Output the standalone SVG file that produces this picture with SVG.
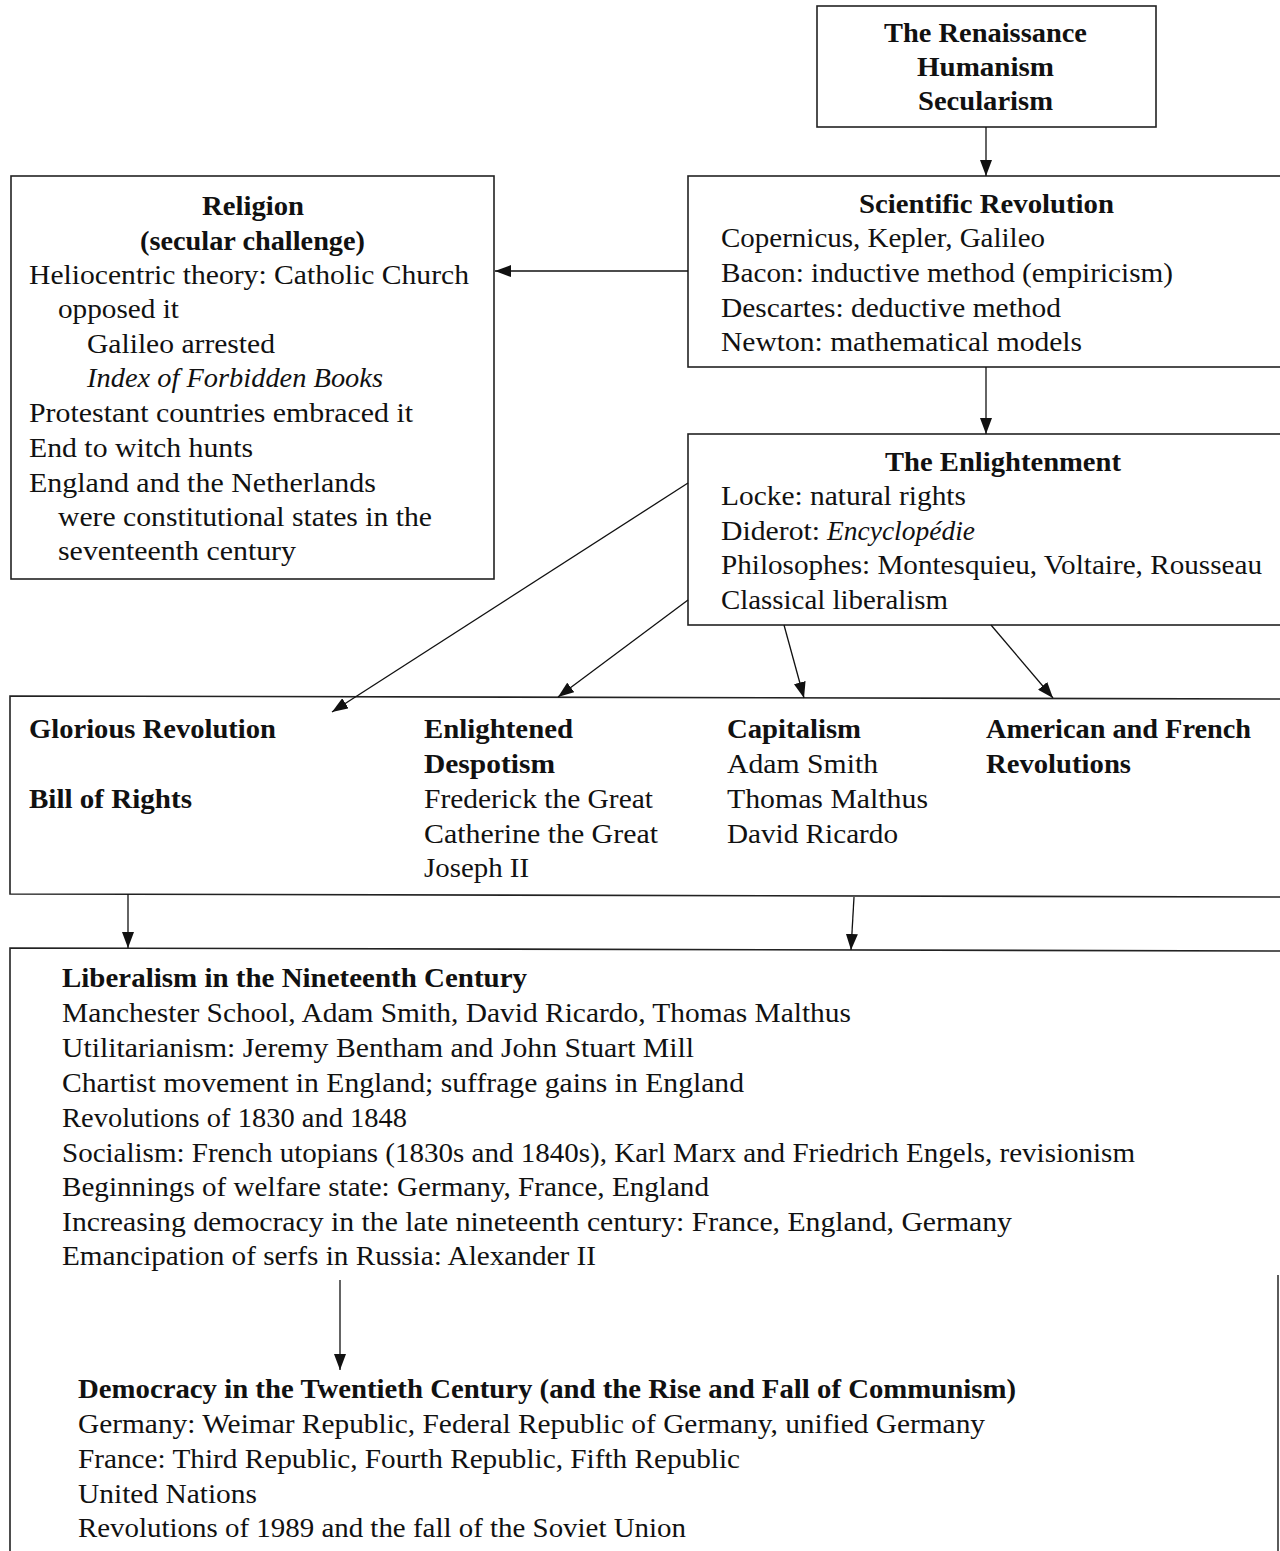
<svg xmlns="http://www.w3.org/2000/svg" width="1280" height="1551" viewBox="0 0 1280 1551">
<style>
text{font-family:"Liberation Serif","Times New Roman",serif;font-size:27px;fill:#111}
.b{font-weight:bold}
.i{font-style:italic}
.box{fill:#fff;stroke:#222;stroke-width:1.6}
.c line{stroke:#111;stroke-width:1.3}
</style>
<defs>
<marker id="ah" viewBox="0 0 16 12" refX="16" refY="6" markerWidth="16" markerHeight="12" markerUnits="userSpaceOnUse" orient="auto">
<path d="M0,0 L16,6 L0,12 Z" fill="#111"/>
</marker>
</defs>
<rect width="1280" height="1551" fill="#fff"/>

<g id="renaissance">
<rect class="box" x="817" y="6" width="339" height="121"/>
<text class="b" x="884" y="42" textLength="203" lengthAdjust="spacingAndGlyphs">The Renaissance</text>
<text class="b" x="917" y="76" textLength="137" lengthAdjust="spacingAndGlyphs">Humanism</text>
<text class="b" x="918" y="110" textLength="135" lengthAdjust="spacingAndGlyphs">Secularism</text>
</g>

<g id="religion">
<rect class="box" x="11" y="176" width="483" height="403"/>
<text class="b" x="202" y="215" textLength="102" lengthAdjust="spacingAndGlyphs">Religion</text>
<text class="b" x="140" y="250" textLength="225" lengthAdjust="spacingAndGlyphs">(secular challenge)</text>
<text x="29" y="284" textLength="440" lengthAdjust="spacingAndGlyphs">Heliocentric theory: Catholic Church</text>
<text x="58" y="318" textLength="121" lengthAdjust="spacingAndGlyphs">opposed it</text>
<text x="87" y="353" textLength="188" lengthAdjust="spacingAndGlyphs">Galileo arrested</text>
<text class="i" x="87" y="387" textLength="296" lengthAdjust="spacingAndGlyphs">Index of Forbidden Books</text>
<text x="29" y="422" textLength="384" lengthAdjust="spacingAndGlyphs">Protestant countries embraced it</text>
<text x="29" y="457" textLength="224" lengthAdjust="spacingAndGlyphs">End to witch hunts</text>
<text x="29" y="492" textLength="347" lengthAdjust="spacingAndGlyphs">England and the Netherlands</text>
<text x="58" y="526" textLength="374" lengthAdjust="spacingAndGlyphs">were constitutional states in the</text>
<text x="58" y="560" textLength="238" lengthAdjust="spacingAndGlyphs">seventeenth century</text>
</g>

<g id="scientific">
<rect class="box" x="688" y="176" width="610" height="191"/>
<text class="b" x="859" y="213" textLength="255" lengthAdjust="spacingAndGlyphs">Scientific Revolution</text>
<text x="721" y="247" textLength="324" lengthAdjust="spacingAndGlyphs">Copernicus, Kepler, Galileo</text>
<text x="721" y="282" textLength="452" lengthAdjust="spacingAndGlyphs">Bacon: inductive method (empiricism)</text>
<text x="721" y="317" textLength="340" lengthAdjust="spacingAndGlyphs">Descartes: deductive method</text>
<text x="721" y="351" textLength="361" lengthAdjust="spacingAndGlyphs">Newton: mathematical models</text>
</g>

<g id="enlightenment">
<rect class="box" x="688" y="434" width="610" height="191"/>
<text class="b" x="885" y="471" textLength="236" lengthAdjust="spacingAndGlyphs">The Enlightenment</text>
<text x="721" y="505" textLength="245" lengthAdjust="spacingAndGlyphs">Locke: natural rights</text>
<text x="721" y="540" textLength="99" lengthAdjust="spacingAndGlyphs">Diderot:</text>
<text class="i" x="827" y="540" textLength="148" lengthAdjust="spacingAndGlyphs">Encyclopédie</text>
<text x="721" y="574" textLength="541" lengthAdjust="spacingAndGlyphs">Philosophes: Montesquieu, Voltaire, Rousseau</text>
<text x="721" y="609" textLength="227" lengthAdjust="spacingAndGlyphs">Classical liberalism</text>
</g>

<g id="consequences">
<polygon class="box" points="10,696 1300,699 1300,897 10,894"/>
<text class="b" x="29" y="738" textLength="247" lengthAdjust="spacingAndGlyphs">Glorious Revolution</text>
<text class="b" x="29" y="808" textLength="163" lengthAdjust="spacingAndGlyphs">Bill of Rights</text>
<text class="b" x="424" y="738" textLength="149" lengthAdjust="spacingAndGlyphs">Enlightened</text>
<text class="b" x="424" y="773" textLength="131" lengthAdjust="spacingAndGlyphs">Despotism</text>
<text x="424" y="808" textLength="229" lengthAdjust="spacingAndGlyphs">Frederick the Great</text>
<text x="424" y="843" textLength="234" lengthAdjust="spacingAndGlyphs">Catherine the Great</text>
<text x="424" y="877" textLength="105" lengthAdjust="spacingAndGlyphs">Joseph II</text>
<text class="b" x="727" y="738" textLength="134" lengthAdjust="spacingAndGlyphs">Capitalism</text>
<text x="727" y="773" textLength="151" lengthAdjust="spacingAndGlyphs">Adam Smith</text>
<text x="727" y="808" textLength="201" lengthAdjust="spacingAndGlyphs">Thomas Malthus</text>
<text x="727" y="843" textLength="171" lengthAdjust="spacingAndGlyphs">David Ricardo</text>
<text class="b" x="986" y="738" textLength="265" lengthAdjust="spacingAndGlyphs">American and French</text>
<text class="b" x="986" y="773" textLength="145" lengthAdjust="spacingAndGlyphs">Revolutions</text>
</g>

<g id="liberalism">
<path class="box" d="M10,1560 V948 L1300,951" fill="none"/>
<line x1="1278" y1="1275" x2="1278" y2="1551" stroke="#333" stroke-width="1.6"/>
<text class="b" x="62" y="987" textLength="465" lengthAdjust="spacingAndGlyphs">Liberalism in the Nineteenth Century</text>
<text x="62" y="1022" textLength="789" lengthAdjust="spacingAndGlyphs">Manchester School, Adam Smith, David Ricardo, Thomas Malthus</text>
<text x="62" y="1057" textLength="632" lengthAdjust="spacingAndGlyphs">Utilitarianism: Jeremy Bentham and John Stuart Mill</text>
<text x="62" y="1092" textLength="682" lengthAdjust="spacingAndGlyphs">Chartist movement in England; suffrage gains in England</text>
<text x="62" y="1127" textLength="345" lengthAdjust="spacingAndGlyphs">Revolutions of 1830 and 1848</text>
<text x="62" y="1162" textLength="1073" lengthAdjust="spacingAndGlyphs">Socialism: French utopians (1830s and 1840s), Karl Marx and Friedrich Engels, revisionism</text>
<text x="62" y="1196" textLength="647" lengthAdjust="spacingAndGlyphs">Beginnings of welfare state: Germany, France, England</text>
<text x="62" y="1231" textLength="950" lengthAdjust="spacingAndGlyphs">Increasing democracy in the late nineteenth century: France, England, Germany</text>
<text x="62" y="1265" textLength="534" lengthAdjust="spacingAndGlyphs">Emancipation of serfs in Russia: Alexander II</text>
</g>

<g id="democracy">
<text class="b" x="78" y="1398" textLength="938" lengthAdjust="spacingAndGlyphs">Democracy in the Twentieth Century (and the Rise and Fall of Communism)</text>
<text x="78" y="1433" textLength="907" lengthAdjust="spacingAndGlyphs">Germany: Weimar Republic, Federal Republic of Germany, unified Germany</text>
<text x="78" y="1468" textLength="662" lengthAdjust="spacingAndGlyphs">France: Third Republic, Fourth Republic, Fifth Republic</text>
<text x="78" y="1503" textLength="179" lengthAdjust="spacingAndGlyphs">United Nations</text>
<text x="78" y="1537" textLength="608" lengthAdjust="spacingAndGlyphs">Revolutions of 1989 and the fall of the Soviet Union</text>
</g>

<g id="connectors" class="c">
<line x1="986" y1="127" x2="986" y2="176" marker-end="url(#ah)"/>
<line x1="688" y1="271" x2="495" y2="271" marker-end="url(#ah)"/>
<line x1="986" y1="367" x2="986" y2="434" marker-end="url(#ah)"/>
<line x1="688" y1="483" x2="332" y2="712" marker-end="url(#ah)"/>
<line x1="688" y1="600" x2="558" y2="697" marker-end="url(#ah)"/>
<line x1="784" y1="625" x2="804" y2="698" marker-end="url(#ah)"/>
<line x1="991" y1="625" x2="1053" y2="698" marker-end="url(#ah)"/>
<line x1="128" y1="894" x2="128" y2="948" marker-end="url(#ah)"/>
<line x1="854" y1="897" x2="851" y2="950" marker-end="url(#ah)"/>
<line x1="340" y1="1280" x2="340" y2="1370" marker-end="url(#ah)"/>
</g>
</svg>
